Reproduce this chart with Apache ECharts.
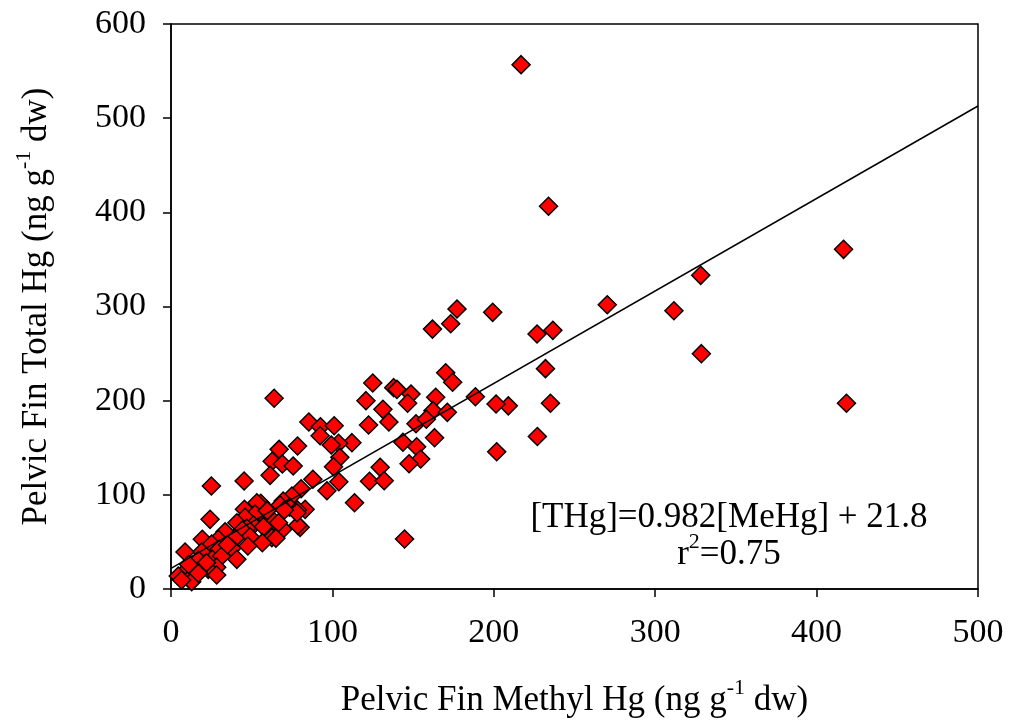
<!DOCTYPE html>
<html>
<head>
<meta charset="utf-8">
<script src="https://cdn.jsdelivr.net/npm/echarts@6/dist/echarts.min.js"></script>
<style>
html,body{margin:0;padding:0;background:#fff;}
#chart{width:1013px;height:728px;}
</style>
</head>
<body>
<div id="chart"></div>
<script>
// Pelvic fin methyl Hg (x) vs total Hg (y), ng g-1 dw
const meHg = [216.9,233.9,416.7,328.2,270.3,311.6,328.6,418.5,226.8,236.6,232.0,235.1,227.0,201.8,209.0,201.4,188.6,199.3,177.2,173.3,
  162.0,170.2,174.5,125.0,138.0,140.0,148.7,120.8,146.6,164.0,131.3,162.3,171.2,135.0,151.8,158.2,85.4,92.6,101.1,92.4,
  122.4,112.1,103.8,99.3,143.7,152.2,163.3,154.7,147.5,104.6,100.7,129.6,104.0,123.0,132.1,87.9,96.6,80.6,113.7,83.1,
  80.0,144.7,63.9,78.4,67.0,62.7,69.0,75.7,61.4,74.9,69.5,73.4,78.4,59.4,55.6,55.6,63.9,78.6,69.3,25.0,
  45.3,67.6,78.0,70.3,53.2,45.5,52.1,45.9,24.2,40.8,51.1,57.3,66.6,47.0,59.6,44.2,33.5,49.0,39.7,19.4,
  29.3,25.2,62.5,56.6,47.6,37.7,29.8,19.0,8.7,17.0,25.6,31.4,40.8,28.3,20.1,9.7,4.5,12.8,23.1,28.3,
  12.8,6.6,17.0,65.0,35.0,11.0,22.0];
const totHg = [556.8,406.4,360.7,333.1,301.9,295.5,249.9,197.2,270.8,274.7,234.0,197.2,162.0,145.8,194.5,196.4,204.2,293.8,297.3,281.7,
  276.0,229.7,219.5,218.8,213.8,212.0,207.0,200.0,197.2,203.6,190.8,189.4,187.6,177.3,175.5,180.2,177.3,172.3,173.4,162.8,
  174.2,155.4,154.7,152.9,155.8,151.1,160.7,138.0,133.0,139.8,129.9,129.2,113.9,114.4,115.0,116.5,104.4,106.5,91.6,84.6,
  65.5,53.1,202.5,151.9,148.3,135.6,132.7,130.6,120.7,98.8,93.4,86.8,83.9,76.8,91.0,80.4,71.5,67.6,63.4,109.4,
  114.7,89.2,81.0,83.9,91.6,84.6,79.6,76.1,74.0,70.4,68.0,66.2,70.4,64.5,83.2,62.7,60.8,55.5,53.8,52.8,
  52.8,47.8,54.5,49.2,45.7,43.2,42.2,39.3,39.3,30.8,31.5,35.0,31.5,23.0,23.7,20.2,13.8,13.1,20.9,14.9,
  7.8,9.6,16.7,54.0,47.0,26.0,28.0];
// regression line end points: [THg]=0.982[MeHg] + 21.8
const fitX = [0, 500];
const fitY = [21.8, 512.9];
const xTicks = [0,100,200,300,400,500];
const yTicks = [0,100,200,300,400,500,600];

const FONT = 'Liberation Serif, Times New Roman, serif';
const pts = meHg.map((v,i)=>[v, totHg[i]]);
const fit = fitX.map((v,i)=>[v, fitY[i]]);
const supStyle = {fontFamily:FONT, fontSize:22, color:'#000', padding:[0,0,26,0]};

const chart = echarts.init(document.getElementById('chart'), null, {renderer:'canvas'});
chart.setOption({
  backgroundColor:'#fff',
  animation:false,
  grid:{left:171, top:24, right:35, bottom:139, show:true, borderColor:'#000', borderWidth:1.5, backgroundColor:'transparent'},
  xAxis:{
    type:'value', min:xTicks[0], max:xTicks[xTicks.length-1], interval:100,
    name:'{m|Pelvic Fin Methyl Hg (ng g}{s|-1}{m| dw)}', nameLocation:'middle', nameGap:88,
    nameTextStyle:{fontFamily:FONT, fontSize:35, color:'#000', rich:{m:{fontFamily:FONT, fontSize:35, color:'#000'}, s:supStyle}},
    axisLine:{lineStyle:{color:'#000', width:1.5}},
    axisTick:{inside:false, length:8, lineStyle:{color:'#000', width:1.5}},
    axisLabel:{fontFamily:FONT, fontSize:34, color:'#000', margin:27},
    splitLine:{show:false}
  },
  yAxis:{
    type:'value', min:yTicks[0], max:yTicks[yTicks.length-1], interval:100,
    name:'{m|Pelvic Fin Total Hg (ng g}{s|-1}{m| dw)}', nameLocation:'middle', nameGap:110,
    nameTextStyle:{fontFamily:FONT, fontSize:35, color:'#000', rich:{m:{fontFamily:FONT, fontSize:35, color:'#000'}, s:supStyle}},
    axisLine:{lineStyle:{color:'#000', width:1.5}},
    axisTick:{inside:false, length:8, lineStyle:{color:'#000', width:1.5}},
    axisLabel:{fontFamily:FONT, fontSize:34, color:'#000', margin:25},
    splitLine:{show:false}
  },
  series:[
    {type:'scatter', data:pts, symbol:'diamond', symbolSize:[18,18],
     itemStyle:{color:'#ff0000', borderColor:'#000', borderWidth:1.5, opacity:1}, z:2},
    {type:'line', data:fit, symbol:'none', lineStyle:{color:'#000', width:1.5}, z:3}
  ],
  graphic:[
    {type:'text', x:729, y:518, style:{text:'[THg]=0.982[MeHg] + 21.8', fontFamily:FONT, fontSize:35, fill:'#000', align:'center', verticalAlign:'middle'}},
    {type:'text', x:729, y:555, style:{text:'{m|r}{s|2}{m|=0.75}', fontFamily:FONT, fontSize:35, fill:'#000', align:'center', verticalAlign:'middle',
      rich:{m:{fontFamily:FONT, fontSize:35, fill:'#000'}, s:{fontFamily:FONT, fontSize:22, fill:'#000', padding:[0,0,26,0]}}}}
  ]
});
</script>
</body>
</html>
